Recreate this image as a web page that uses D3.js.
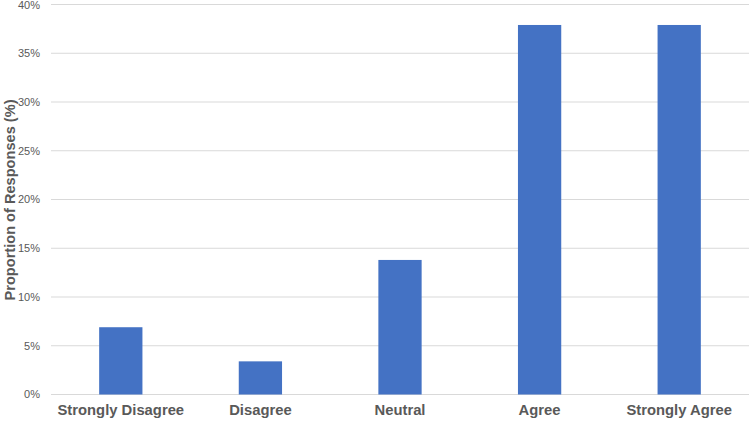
<!DOCTYPE html>
<html><head><meta charset="utf-8">
<script src="https://cdn.jsdelivr.net/npm/d3@7"></script>
<style>body{margin:0;background:#fff}svg{display:block}</style>
</head><body>
<svg id="c" width="750" height="421"></svg>
<script>
const categories = ["Strongly Disagree", "Disagree", "Neutral", "Agree", "Strongly Agree"];
const values = [6.9, 3.4, 13.8, 37.9, 37.9];
const yTicks = [0, 5, 10, 15, 20, 25, 30, 35, 40];
const yTitle = "Proportion of Responses (%)";

const svg = d3.select("#c");
const mLeft = 51, mRight = 749, mTop = 4.5, mBottom = 394.5;
const x = d3.scaleBand().domain(categories).range([mLeft, mRight]).paddingInner(0.69).paddingOuter(0.345);
const y = d3.scaleLinear().domain([0, 40]).range([mBottom, mTop]);

// gridlines
svg.append("g").selectAll("line").data(yTicks).join("line")
  .attr("x1", mLeft).attr("x2", mRight)
  .attr("y1", d => y(d)).attr("y2", d => y(d))
  .attr("stroke", "#d9d9d9").attr("stroke-width", 1);

// y tick labels
svg.append("g").selectAll("text").data(yTicks).join("text")
  .attr("x", 40).attr("y", d => Math.max(y(d), 5.5)).attr("dy", "0.35em")
  .attr("text-anchor", "end")
  .attr("font-family", "'Liberation Sans', Arial, sans-serif")
  .attr("font-size", 11).attr("fill", "#595959")
  .text(d => d + "%");

// bars
svg.append("g").selectAll("rect").data(values).join("rect")
  .attr("x", (d, i) => x(categories[i]))
  .attr("width", x.bandwidth())
  .attr("y", d => y(d))
  .attr("height", d => y(0) - y(d))
  .attr("fill", "#4472c4");

// category labels
svg.append("g").selectAll("text").data(categories).join("text")
  .attr("x", d => x(d) + x.bandwidth() / 2).attr("y", 415)
  .attr("text-anchor", "middle")
  .attr("font-family", "'Liberation Sans', Arial, sans-serif")
  .attr("font-weight", "bold").attr("font-size", 14.8).attr("fill", "#595959")
  .text(d => d);

// y title
svg.append("text")
  .attr("transform", "translate(9.5,200) rotate(-90)")
  .attr("dy", "0.35em")
  .attr("text-anchor", "middle")
  .attr("font-family", "'Liberation Sans', Arial, sans-serif")
  .attr("font-weight", "bold").attr("font-size", 14.6).attr("fill", "#595959")
  .text(yTitle);
</script>
</body></html>
